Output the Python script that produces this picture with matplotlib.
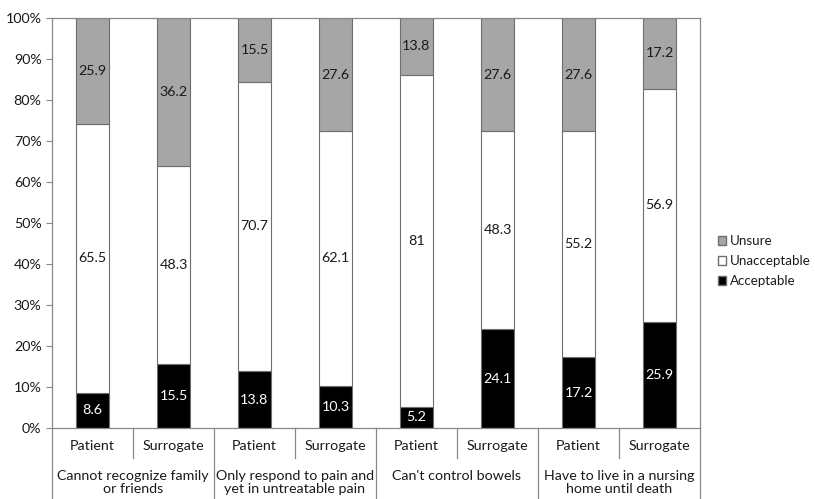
import numpy as np
import matplotlib

matplotlib.use("Agg")
import matplotlib.pyplot as plt
from matplotlib.patches import Patch

plt.rcParams["font.family"] = ["Lato", "DejaVu Sans"]

groups = ["Cannot recognize family\nor friends", "Only respond to pain and\nyet in untreatable pain",
          "Can't control bowels", "Have to live in a nursing\nhome until death"]
roles = ["Patient", "Surrogate"] * 4
acceptable = [8.6, 15.5, 13.8, 10.3, 5.2, 24.1, 17.2, 25.9]
unacceptable = [65.5, 48.3, 70.7, 62.1, 81, 48.3, 55.2, 56.9]
unsure = [25.9, 36.2, 15.5, 27.6, 13.8, 27.6, 27.6, 17.2]

fig = plt.figure(figsize=(8.15, 4.99), dpi=100)
ax = fig.add_axes([52 / 815, 1 - 428 / 499, 648 / 815, 410 / 499])

x = np.arange(len(roles))
w = 0.4
edge = "#6e6e6e"
acc = np.array(acceptable)
una = np.array(unacceptable)
uns = np.array(unsure)
fs = 10.3
ax.bar(x, acc, w, color="black", edgecolor=edge, linewidth=0.8, label="Acceptable")
ax.bar(x, una, w, bottom=acc, color="white", edgecolor=edge, linewidth=0.8, label="Unacceptable")
ax.bar(x, uns, w, bottom=acc + una, color="#a6a6a6", edgecolor=edge, linewidth=0.8, label="Unsure")

txt = "#1a1a1a"
for i in range(len(x)):
    ax.text(x[i], acc[i] / 2, f"{acceptable[i]:g}", ha="center", va="center", color="white", fontsize=fs)
    ax.text(x[i], acc[i] + una[i] / 2, f"{unacceptable[i]:g}", ha="center", va="center", color=txt, fontsize=fs)
    ax.text(x[i], acc[i] + una[i] + uns[i] / 2, f"{unsure[i]:g}", ha="center", va="center", color=txt, fontsize=fs)

ax.set_xlim(-0.5, len(x) - 0.5)
ax.set_ylim(0, 100)
ax.set_yticks(range(0, 101, 10))
ax.set_yticklabels([f"{v}%" for v in range(0, 101, 10)], fontsize=fs, color=txt)
ax.tick_params(axis="y", length=4, color="#888888")
ax.set_xticks([])
for s in ax.spines.values():
    s.set_color("#888888")
    s.set_linewidth(0.9)

# two-level category axis
tr = ax.get_xaxis_transform()
for i, r in enumerate(roles):
    ax.text(x[i], -0.045, r, transform=tr, ha="center", va="center", fontsize=fs, color=txt, clip_on=False)
for g, name in enumerate(groups):
    ax.text(2 * g + 0.5, -0.103, name, transform=tr, ha="center", va="top", fontsize=fs,
            color=txt, linespacing=1.05, clip_on=False)
for k in range(0, 9, 2):
    ax.plot([k - 0.5, k - 0.5], [0, -0.25], transform=tr, color="#888888", lw=0.9, clip_on=False)
for k in range(1, 8, 2):
    ax.plot([k - 0.5, k - 0.5], [0, -0.072], transform=tr, color="#888888", lw=0.9, clip_on=False)

handles = [Patch(facecolor="#a6a6a6", edgecolor=edge, label="Unsure"),
           Patch(facecolor="white", edgecolor=edge, label="Unacceptable"),
           Patch(facecolor="black", edgecolor=edge, label="Acceptable")]
fig.legend(handles=handles, loc="center left", bbox_to_anchor=(718 / 815, 1 - 261 / 499), frameon=False,
           fontsize=9.6, handlelength=0.6, handleheight=0.6, handletextpad=0.3, labelspacing=0.6,
           labelcolor=txt, borderpad=0, borderaxespad=0)

fig.savefig("out.png", dpi=100)
